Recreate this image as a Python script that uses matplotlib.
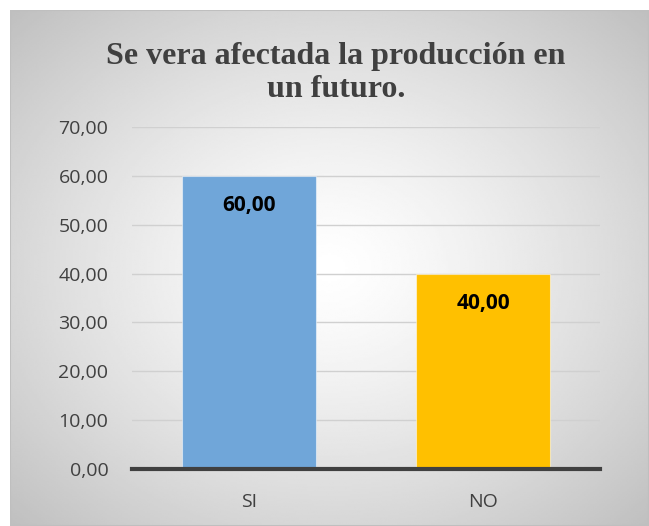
import numpy as np
import matplotlib.pyplot as plt
from matplotlib.patches import Rectangle

categorias = ["SI", "NO"]
valores = [60.00, 40.00]
colores = ["#70a6d9", "#ffc000"]
titulo = "Se vera afectada la producción en\nun futuro."

fig = plt.figure(figsize=(6.49, 5.26), dpi=100)
W, H = 649, 526

# fondo con degradado radial (marco del grafico)
bg = fig.add_axes([10 / W, 0, 1 - 10 / W, 1 - 10 / H])
bg.set_axis_off()
yy, xx = np.mgrid[0:1:300j, 0:1:300j]
r = np.sqrt(((xx - 0.5) / 0.5) ** 2 + ((yy - 0.5) / 0.5) ** 2) / np.sqrt(2)
grad = 1.0 - 0.25 * np.clip(r, 0, 1) ** 1.3
bg.imshow(grad, cmap="gray", vmin=0, vmax=1, extent=[0, 1, 0, 1],
          aspect="auto", interpolation="bilinear")
bg.set_xlim(0, 1)
bg.set_ylim(0, 1)
bg.add_patch(Rectangle((0, 0), 1, 1, fill=False, edgecolor="#bfbfbf", lw=1.5))

# area de trazado
left, right = 132, 600
top, bottom = 127, 469
ax = fig.add_axes([left / W, 1 - bottom / H, (right - left) / W, (bottom - top) / H])
ax.patch.set_alpha(0)

x = np.arange(len(categorias))
barras = ax.bar(x, valores, width=0.57, color=colores, edgecolor="#ffffff80",
                linewidth=0.8, zorder=3)
ax.set_xlim(-0.5, len(categorias) - 0.5)
ax.set_ylim(0, 70)
ax.set_yticks(np.arange(0, 71, 10))
ax.set_yticklabels([f"{v:.2f}".replace(".", ",") for v in np.arange(0, 71, 10)])
ax.set_xticks(x)
ax.set_xticklabels(categorias)
ax.yaxis.grid(True, color="#d0d0d0", lw=1, zorder=0)
ax.set_axisbelow(True)
for s in ["top", "right", "left"]:
    ax.spines[s].set_visible(False)
ax.spines["bottom"].set_color("#404040")
ax.spines["bottom"].set_linewidth(3)
ax.spines["bottom"].set_zorder(4)
ax.tick_params(axis="both", length=0, labelsize=14, labelcolor="#404040")
ax.tick_params(axis="y", pad=17)
ax.tick_params(axis="x", pad=17)
for lab in ax.get_xticklabels() + ax.get_yticklabels():
    lab.set_family("Open Sans")

for b, v in zip(barras, valores):
    ax.text(b.get_x() + b.get_width() / 2, v - 3.9, f"{v:.2f}".replace(".", ","),
            ha="center", va="top", fontsize=15, fontweight="bold",
            family="Open Sans", color="black", zorder=5)

fig.text(336 / W, 1 - 73 / H, titulo, ha="center", va="center",
         fontsize=23, fontweight="bold", family="Liberation Serif",
         color="#404040", linespacing=1.22)

fig.savefig("out.png", dpi=100)
